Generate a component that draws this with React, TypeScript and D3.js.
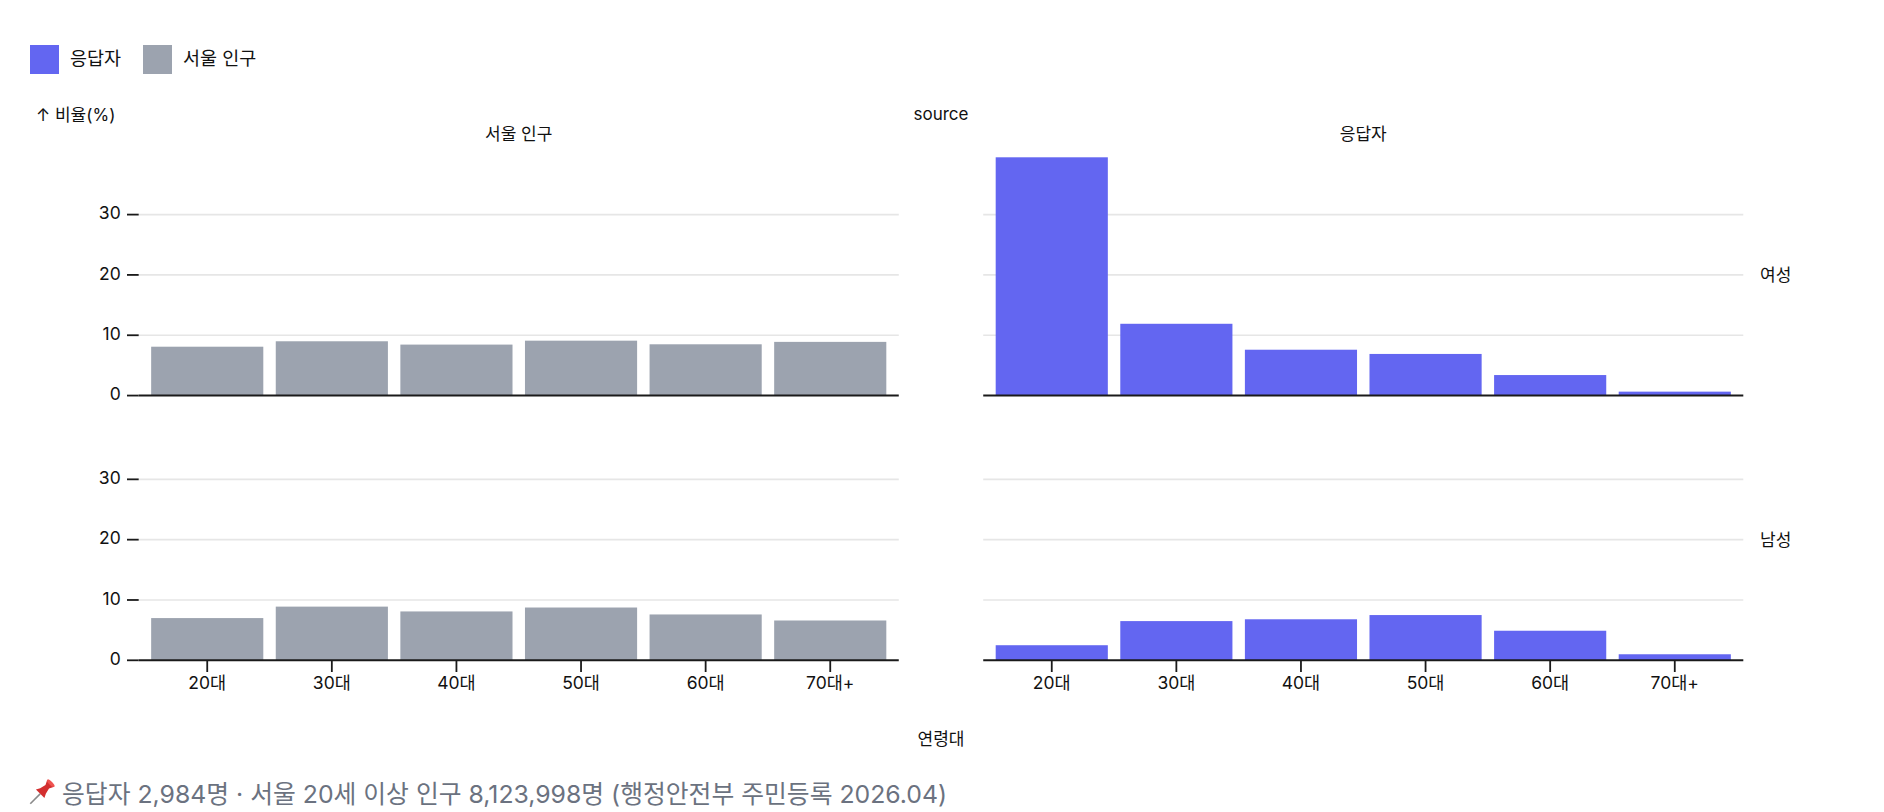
import React from 'react'
import * as d3 from 'd3'

// 연령대 (x categories)
const ageGroups = ['20대', '30대', '40대', '50대', '60대', '70대+']
// facet columns / rows
const sources = ['서울 인구', '응답자']
const genders = ['여성', '남성']

// 비율(%)
const seoulFemale = [8.1, 9.0, 8.45, 9.1, 8.5, 8.9]
const seoulMale = [7.0, 8.9, 8.1, 8.75, 7.6, 6.6]
const respFemale = [39.5, 11.9, 7.6, 6.9, 3.4, 0.65]
const respMale = [2.5, 6.5, 6.8, 7.5, 4.9, 1.0]

const legendItems = ['응답자', '서울 인구']
const colorOf: Record<string, string> = { 응답자: '#6366f1', '서울 인구': '#9ca3af' }

const yTicks = [0, 10, 20, 30]

const footerText = '응답자 2,984명 · 서울 20세 이상 인구 8,123,998명 (행정안전부 주민등록 2026.04)'

const W = 1884
const H = 812
const FONT = "Inter, 'Noto Sans CJK KR', sans-serif"

interface Row {
  source: string
  gender: string
  age: string
  value: number
}

const table: Row[] = []
const seriesBy: Record<string, Record<string, number[]>> = {
  '서울 인구': { 여성: seoulFemale, 남성: seoulMale },
  응답자: { 여성: respFemale, 남성: respMale },
}
sources.forEach(s =>
  genders.forEach(g =>
    ageGroups.forEach((a, i) => table.push({ source: s, gender: g, age: a, value: seriesBy[s][g][i] })),
  ),
)

export default function App() {
  const fx = d3.scaleBand<string>().domain(sources).range([138.7, 1743.3]).paddingInner(0.1)
  const fy = d3.scaleBand<string>().domain(genders).range([157.3, 660.3]).paddingInner(0.1)
  const pw = fx.bandwidth()
  const ph = fy.bandwidth()
  const x = d3.scaleBand<string>().domain(ageGroups).range([0, pw]).padding(0.1)
  const maxV = d3.max(table, d => d.value) || 0
  const y = d3.scaleLinear().domain([0, maxV]).range([ph, 0])

  return (
    <svg
      width={W}
      height={H}
      style={{ position: 'absolute', left: 0, top: 0, background: '#fff' }}
      fontFamily={FONT}
    >
      {/* legend */}
      {legendItems.map((k, i) => {
        const lx = [30, 143][i]
        return (
          <g key={k} transform={`translate(${lx},45)`}>
            <rect width={29} height={29} fill={colorOf[k]} />
            <text x={40} y={15} dominantBaseline="middle" fontSize={18.5} fill="#111">
              {k}
            </text>
          </g>
        )
      })}

      {/* axis labels */}
      <text x={36} y={116} dominantBaseline="middle" fontSize={17} fill="#111">
        ↑ 비율(%)
      </text>
      <text x={941} y={115} textAnchor="middle" dominantBaseline="middle" fontSize={17} fill="#111">
        source
      </text>
      <text x={941} y={740} textAnchor="middle" dominantBaseline="middle" fontSize={17} fill="#111">
        연령대
      </text>

      {/* facet titles */}
      {sources.map(s => (
        <text
          key={s}
          x={(fx(s) || 0) + pw / 2}
          y={135}
          textAnchor="middle"
          dominantBaseline="middle"
          fontSize={17}
          fill="#111"
        >
          {s}
        </text>
      ))}
      {genders.map(g => (
        <text
          key={g}
          x={1760}
          y={(fy(g) || 0) + ph / 2}
          dominantBaseline="middle"
          fontSize={17}
          fill="#111"
        >
          {g}
        </text>
      ))}

      {/* panels */}
      {sources.map((s, si) =>
        genders.map((g, gi) => {
          const rows = table.filter(d => d.source === s && d.gender === g)
          return (
            <g key={s + g} transform={`translate(${fx(s)},${fy(g)})`}>
              {yTicks
                .filter(t => t > 0)
                .map(t => (
                  <line key={t} x1={0} x2={pw} y1={y(t)} y2={y(t)} stroke="#e6e6e6" strokeWidth={1.6} />
                ))}
              {rows.map(d => (
                <rect
                  key={d.age}
                  x={x(d.age)}
                  y={y(d.value)}
                  width={x.bandwidth()}
                  height={y(0) - y(d.value)}
                  fill={colorOf[s]}
                />
              ))}
              <line x1={0} x2={pw} y1={y(0)} y2={y(0)} stroke="#1a1a1a" strokeWidth={2} />
              {si === 0 &&
                yTicks.map(t => (
                  <g key={t} transform={`translate(0,${y(t)})`}>
                    <line x1={-11.7} x2={0} stroke="#1a1a1a" strokeWidth={1.8} />
                    <text x={-18} textAnchor="end" dominantBaseline="middle" fontSize={17.5} fill="#111">
                      {t}
                    </text>
                  </g>
                ))}
              {gi === genders.length - 1 &&
                ageGroups.map(a => (
                  <g key={a} transform={`translate(${(x(a) || 0) + x.bandwidth() / 2},${ph})`}>
                    <line y1={0} y2={11.7} stroke="#1a1a1a" strokeWidth={1.8} />
                    <text y={24} textAnchor="middle" dominantBaseline="middle" fontSize={17.5} fill="#111">
                      {a}
                    </text>
                  </g>
                ))}
            </g>
          )
        }),
      )}

      {/* footer */}
      <g transform="translate(43,791) rotate(45)">
        <line x1={0} y1={4} x2={0} y2={18} stroke="#8a8a8a" strokeWidth={1.6} />
        <path d="M-6,4 L6,4 L4,0 L2.5,-6 L5,-11 L-5,-11 L-2.5,-6 L-4,0 Z" fill="#d32f2f" />
        <ellipse cx={0} cy={-11} rx={5} ry={1.8} fill="#ef5350" />
      </g>
      <text x={62} y={803} fontSize={24.8} fill="#6b7280">
        {footerText}
      </text>
    </svg>
  )
}
